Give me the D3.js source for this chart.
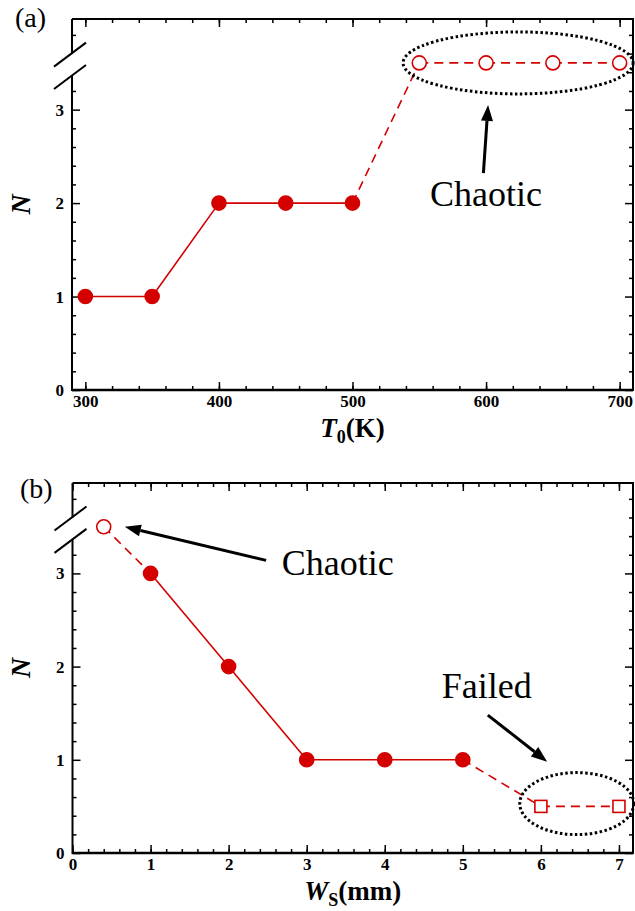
<!DOCTYPE html>
<html>
<head>
<meta charset="utf-8">
<script src="https://cdn.jsdelivr.net/npm/d3@7"></script>
</head>
<body style="margin:0;background:#fff">
<div id="chart"></div>
<script>
// panel (a): N vs initial temperature
const tempK = [300, 350, 400, 450, 500, 550, 600, 650, 700];
const nTemp = [1, 1, 2, 2, 2, 3.5, 3.5, 3.5, 3.5];
const stateTemp = ["p", "p", "p", "p", "p", "c", "c", "c", "c"];
const tempTicks = [300, 400, 500, 600, 700];

// panel (b): N vs slot width
const widthMm = [0.4, 1, 2, 3, 4, 5, 6, 7];
const nWidth = [3.5, 3, 2, 1, 1, 1, 0.5, 0.5];
const stateWidth = ["c", "p", "p", "p", "p", "p", "f", "f"];
const widthTicks = [0, 1, 2, 3, 4, 5, 6, 7];

const nTicks = [0, 1, 2, 3];

const red = "#d40000";
const serif = '"Liberation Serif"';
const svg = d3.select("#chart").append("svg")
  .attr("width", 635).attr("height", 911)
  .style("display", "block");

function drawArrow(g, x1, y1, x2, y2) {
  const a = Math.atan2(y2 - y1, x2 - x1), L = 16, w = 6;
  const bx = x2 - L * Math.cos(a), by = y2 - L * Math.sin(a);
  g.append("line")
    .attr("x1", x1).attr("y1", y1).attr("x2", bx).attr("y2", by)
    .attr("stroke", "#000").attr("stroke-width", 3);
  g.append("path")
    .attr("d", `M${x2},${y2}L${bx - w * Math.sin(a)},${by + w * Math.cos(a)}L${bx + w * Math.sin(a)},${by - w * Math.cos(a)}Z`)
    .attr("fill", "#000");
}

function panel(o) {
  const g = svg.append("g");
  const x = d3.scaleLinear(o.xDomain, [o.left, o.right]);
  const y = d3.scaleLinear([0, 3.97], [o.bottom, o.top]);

  const styleAxis = (sel) => {
    sel.attr("font-family", null).attr("font-size", null);
    sel.select(".domain").remove();
    sel.selectAll("line").attr("stroke", "#000").attr("stroke-width", 1.5);
    sel.selectAll("text").style("font-family", serif).style("font-size", "17px")
      .style("font-weight", "bold").attr("fill", "#000");
  };

  const yMinor = d3.range(0, 3.81, 0.2).filter(v => nTicks.indexOf(Math.round(v * 10) / 10) < 0);
  const yMinorLeft = yMinor.filter(v => v < 3.3 || v > 3.7);

  // minor ticks
  g.append("g").attr("transform", `translate(0,${o.bottom})`)
    .call(d3.axisBottom(x).tickValues(o.xMinor).tickSize(-4).tickFormat("")).call(styleAxis);
  g.append("g").attr("transform", `translate(0,${o.top})`)
    .call(d3.axisTop(x).tickValues(o.xMinor).tickSize(-4).tickFormat("")).call(styleAxis);
  g.append("g").attr("transform", `translate(${o.left},0)`)
    .call(d3.axisLeft(y).tickValues(yMinorLeft).tickSize(-4).tickFormat("")).call(styleAxis);
  g.append("g").attr("transform", `translate(${o.right},0)`)
    .call(d3.axisRight(y).tickValues(yMinor).tickSize(-4).tickFormat("")).call(styleAxis);

  // major ticks
  g.append("g").attr("transform", `translate(0,${o.bottom})`)
    .call(d3.axisBottom(x).tickValues(o.xTicks).tickSize(-8).tickPadding(5).tickFormat(d3.format("d"))).call(styleAxis);
  g.append("g").attr("transform", `translate(0,${o.top})`)
    .call(d3.axisTop(x).tickValues(o.xTicks).tickSize(-8).tickFormat("")).call(styleAxis);
  g.append("g").attr("transform", `translate(${o.left},0)`)
    .call(d3.axisLeft(y).tickValues(nTicks).tickSize(-8).tickPadding(8).tickFormat(d3.format("d"))).call(styleAxis);
  g.append("g").attr("transform", `translate(${o.right},0)`)
    .call(d3.axisRight(y).tickValues(nTicks).tickSize(-8).tickFormat("")).call(styleAxis);

  // frame with axis break on the left
  const yb1 = y(3.6), yb2 = y(3.36);
  const frame = [
    [[o.left, o.top], [o.right, o.top], [o.right, o.bottom], [o.left, o.bottom], [o.left, yb2]],
    [[o.left, yb1], [o.left, o.top]]
  ];
  frame.forEach(p => g.append("path").attr("d", d3.line()(p))
    .attr("fill", "none").attr("stroke", "#000").attr("stroke-width", 2));
  g.append("path").attr("d", d3.line()(frame[0].slice(2, 4)))
    .attr("stroke", "#000").attr("stroke-width", 2.6);
  [yb1, yb2].forEach(yy => g.append("line")
    .attr("x1", o.left - 18).attr("y1", yy + 13).attr("x2", o.left + 14).attr("y2", yy - 11)
    .attr("stroke", "#000").attr("stroke-width", 2));

  // connecting lines
  for (let i = 0; i < o.xs.length - 1; i++) {
    const solid = o.st[i] === "p" && o.st[i + 1] === "p";
    g.append("line")
      .attr("x1", x(o.xs[i])).attr("y1", y(o.ys[i]))
      .attr("x2", x(o.xs[i + 1])).attr("y2", y(o.ys[i + 1]))
      .attr("stroke", red).attr("stroke-width", 1.6)
      .attr("stroke-dasharray", solid ? null : "9,6");
  }

  // markers
  const pts = o.xs.map((d, i) => ({ x: d, y: o.ys[i], s: o.st[i] }));
  g.selectAll(".circ").data(pts.filter(d => d.s !== "f")).join("circle")
    .attr("cx", d => x(d.x)).attr("cy", d => y(d.y)).attr("r", 7)
    .attr("fill", d => d.s === "p" ? red : "#fff")
    .attr("stroke", red).attr("stroke-width", 1.6);
  g.selectAll(".sq").data(pts.filter(d => d.s === "f")).join("rect")
    .attr("x", d => x(d.x) - 6).attr("y", d => y(d.y) - 6)
    .attr("width", 12).attr("height", 12)
    .attr("fill", "#fff").attr("stroke", red).attr("stroke-width", 1.6);

  // panel label
  g.append("text").attr("x", o.labelX).attr("y", o.labelY)
    .style("font-family", serif).style("font-size", "28px").text(o.label);

  // y title
  g.append("text")
    .attr("transform", `translate(30,${(o.top + o.bottom) / 2}) rotate(-90)`)
    .attr("text-anchor", "middle")
    .style("font-family", serif).style("font-size", "28px")
    .style("font-weight", "bold").style("font-style", "italic").text("N");

  // x title
  const xt = g.append("text").attr("x", (o.left + o.right) / 2).attr("y", o.bottom + 47)
    .attr("text-anchor", "middle")
    .style("font-family", serif).style("font-size", "27px").style("font-weight", "bold");
  xt.append("tspan").style("font-style", "italic").text(o.xSym);
  xt.append("tspan").style("font-size", "18px").attr("dy", 6).text(o.xSub);
  xt.append("tspan").attr("dy", -6).text(o.xUnit);

  // annotations
  o.ellipses.forEach(e => g.append("ellipse")
    .attr("cx", x(e.cx)).attr("cy", y(e.cy)).attr("rx", e.rx).attr("ry", e.ry)
    .attr("fill", "none").attr("stroke", "#000").attr("stroke-width", 3)
    .attr("stroke-dasharray", "2.5,2.5"));
  o.arrows.forEach(a => drawArrow(g, x(a[0]), y(a[1]), x(a[2]), y(a[3])));
  o.notes.forEach(n => g.append("text").attr("x", x(n.x)).attr("y", y(n.y))
    .attr("text-anchor", n.anchor)
    .style("font-family", serif).style("font-size", "36px").text(n.text));
}

panel({
  xDomain: [290, 710], left: 72, right: 633, top: 19, bottom: 390,
  xTicks: tempTicks, xMinor: d3.range(300, 701, 20),
  xs: tempK, ys: nTemp, st: stateTemp,
  label: "(a)", labelX: 15, labelY: 27,
  xSym: "T", xSub: "0", xUnit: "(K)",
  ellipses: [{ cx: 624, cy: 3.5, rx: 115, ry: 31 }],
  arrows: [[598, 2.32, 601.5, 3.05]],
  notes: [{ x: 600, y: 1.97, text: "Chaotic", anchor: "middle" }]
});

panel({
  xDomain: [0, 7.18], left: 72.5, right: 633, top: 483, bottom: 853,
  xTicks: widthTicks, xMinor: d3.range(0, 7.01, 0.2),
  xs: widthMm, ys: nWidth, st: stateWidth,
  label: "(b)", labelX: 20, labelY: 498,
  xSym: "W", xSub: "S", xUnit: "(mm)",
  ellipses: [{ cx: 6.46, cy: 0.53, rx: 57, ry: 31 }],
  arrows: [[2.48, 3.14, 0.67, 3.5], [5.32, 1.48, 6.08, 0.98]],
  notes: [{ x: 2.68, y: 2.98, text: "Chaotic", anchor: "start" },
          { x: 4.73, y: 1.66, text: "Failed", anchor: "start" }]
});
</script>
</body>
</html>
